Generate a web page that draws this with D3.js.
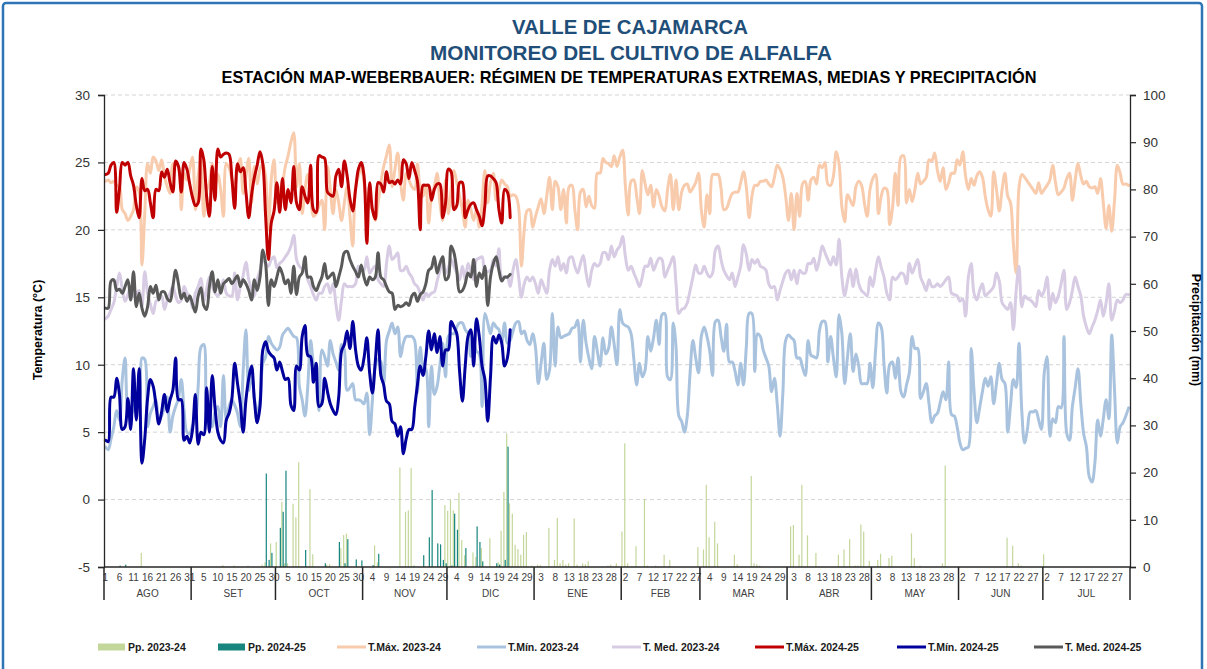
<!DOCTYPE html>
<html><head><meta charset="utf-8">
<script src="https://cdn.jsdelivr.net/npm/d3@7"></script>
<style>
body{margin:0;background:#fff}
text{font-family:"Liberation Sans",Arial,sans-serif}
</style></head>
<body><svg id="c" width="1207" height="669"></svg>
<script>
// ---------- DATA ----------
const monthNames = ["AGO","SET","OCT","NOV","DIC","ENE","FEB","MAR","ABR","MAY","JUN","JUL"];
const monthDays  = [31,30,31,30,31,31,28,31,30,31,30,31];
const tempTicks  = [30,25,20,15,10,5,0,-5];
const ppTicks    = [100,90,80,70,60,50,40,30,20,10,0];
const seriesNames = ["Pp. 2023-24","Pp. 2024-25","T.Máx. 2023-24","T.Mín. 2023-24","T. Med. 2023-24","T.Máx. 2024-25","T.Mín. 2024-25","T. Med. 2024-25"];

const tmax2324 = [23.6,23.7,23.5,23.6,23.3,23.2,21.5,21.2,20.7,21.0,
21.5,23.2,22.8,17.4,21.2,24.9,24.2,25.4,25.1,24.4,
25.2,24.0,23.2,22.7,24.9,24.9,24.7,21.5,24.2,23.7,
24.5,25.4,21.5,24.0,25.2,21.0,22.9,23.5,24.9,23.2,
24.1,23.0,21.0,24.9,24.6,23.8,23.2,24.5,25.3,22.7,
24.0,25.3,22.0,24.7,23.4,24.5,24.9,23.9,20.0,23.7,
25.2,22.0,23.0,23.5,24.7,25.5,26.5,27.2,23.2,24.9,
21.2,23.0,24.1,22.5,21.0,21.2,21.8,22.2,20.0,24.7,
23.0,21.2,23.0,22.0,20.7,22.0,23.2,21.0,18.8,23.2,
24.0,24.7,23.5,22.2,21.8,21.5,20.7,22.0,23.5,24.7,
25.5,26.3,23.2,24.5,25.7,23.5,22.2,24.2,23.7,23.2,
23.0,24.9,23.0,22.5,23.3,20.5,22.5,23.2,24.2,22.0,
20.7,23.7,21.2,23.0,24.4,23.5,22.5,21.5,20.2,22.2,
21.5,20.7,21.5,20.2,22.0,24.4,22.0,23.5,24.2,22.2,
23.0,23.7,23.4,23.2,22.5,22.6,22.5,21.7,17.3,20.0,
21.4,21.5,20.2,21.0,21.7,22.3,21.2,22.5,23.9,21.5,
23.6,23.2,21.5,23.0,20.5,23.2,23.3,21.5,20.0,22.8,
23.0,21.7,22.5,21.8,21.6,24.2,24.2,25.3,25.0,24.9,
24.7,25.5,24.7,25.4,25.9,23.2,21.1,23.6,23.7,22.5,
21.2,24.4,23.4,22.6,23.3,21.7,23.0,22.5,21.7,21.4,
23.0,24.1,21.5,23.7,21.5,22.8,23.3,23.4,22.8,23.1,
23.5,24.2,21.5,20.2,22.6,21.2,24.1,24.1,24.1,23.1,
21.5,21.6,22.2,22.7,22.8,22.8,23.5,24.3,23.2,20.9,
22.5,23.3,23.3,23.6,23.6,23.7,23.4,23.2,23.9,24.8,
24.5,23.9,22.5,20.7,22.7,20.0,22.7,21.0,23.4,23.6,
22.2,23.7,23.9,23.4,24.8,24.6,25.0,23.4,23.3,24.0,
25.8,24.9,21.7,20.6,22.6,22.2,21.8,23.2,23.6,23.3,
22.0,21.0,23.0,23.8,24.1,21.2,22.5,23.1,23.0,20.4,
21.6,24.2,21.8,25.4,25.5,22.0,23.0,22.1,23.0,24.2,
23.4,23.6,23.9,25.2,25.1,25.7,24.4,23.6,24.6,23.0,
23.5,24.2,24.2,25.2,24.8,25.8,24.0,23.0,23.8,23.3,
24.0,24.3,23.9,22.5,21.5,21.0,24.3,23.0,21.4,23.0,
24.2,22.5,22.0,19.0,16.8,23.1,24.1,23.9,23.6,23.3,
23.0,22.7,23.5,22.7,23.0,23.3,23.7,24.8,23.5,22.6,
22.8,23.1,23.8,24.2,22.2,23.7,24.9,24.0,23.4,23.6,
23.2,23.1,23.2,22.7,23.8,22.0,20.1,21.8,19.9,22.2,
24.8,24.2,23.4,23.4,23.3];

const tmin2324 = [3.9,3.7,4.5,5.4,6.6,5.9,8.9,10.5,6.6,6.2,
6.8,7.3,7.4,10.5,10.4,5.4,6.4,6.9,7.4,5.9,
6.2,6.9,7.6,5.0,6.2,6.9,7.5,8.9,6.6,5.0,
4.9,5.5,5.9,8.4,11.3,11.5,6.6,5.9,5.4,6.5,
6.9,5.4,9.2,5.9,6.9,7.4,7.0,6.4,5.4,9.5,
12.6,8.1,9.4,7.5,6.4,7.4,10.1,10.6,12.1,11.6,
11.3,11.1,11.3,12.2,12.5,12.7,12.4,12.1,12.0,8.4,
7.4,6.2,8.4,11.8,10.0,8.9,6.6,11.1,10.6,9.9,
11.8,10.8,10.2,9.6,11.5,11.1,8.1,8.3,8.6,7.4,
7.4,7.3,7.1,7.9,4.8,7.4,9.9,10.4,10.2,8.6,
11.8,12.5,13.1,12.3,12.8,10.6,11.6,12.1,12.1,12.1,
11.8,7.9,11.3,9.9,9.7,5.4,9.9,7.8,8.4,10.0,
11.6,9.1,12.1,12.3,12.3,12.8,13.1,13.1,12.6,12.3,
10.6,11.6,11.0,10.8,6.9,13.8,13.1,12.3,13.1,12.8,
12.6,11.6,13.1,11.6,11.8,12.5,13.1,13.2,12.3,12.5,
11.8,11.5,12.3,11.3,8.6,10.1,11.6,8.9,9.6,13.8,
9.9,12.8,12.0,12.1,12.2,12.3,12.7,12.8,13.3,10.2,
13.3,11.6,10.5,9.7,12.1,11.0,9.9,12.0,10.8,11.2,
12.8,11.5,10.0,14.1,13.1,12.9,12.8,12.3,10.4,8.5,
10.1,9.1,9.6,12.1,11.0,12.0,13.3,11.5,13.7,13.8,
9.1,8.9,13.1,11.3,6.2,5.8,5.0,6.2,9.4,11.8,
10.5,9.4,12.1,12.8,12.1,11.0,9.2,13.2,13.3,12.1,
11.0,13.0,10.2,10.2,9.5,8.5,10.1,8.5,11.3,13.8,
13.8,9.5,12.3,12.1,11.1,10.5,9.9,8.0,9.0,7.1,
4.7,7.9,11.8,12.2,12.0,11.8,10.5,10.5,9.8,9.2,
11.8,10.7,10.6,10.5,12.5,13.2,13.2,10.2,12.1,10.5,
9.1,13.7,12.3,8.6,10.6,12.3,9.5,10.8,9.9,8.6,
8.6,8.6,10.1,8.3,11.1,13.1,12.8,10.0,7.9,10.0,
10.2,9.0,10.5,8.0,7.6,8.5,9.4,12.1,11.2,11.2,
7.5,8.0,8.6,7.1,5.7,6.2,6.4,7.2,8.0,7.4,
10.2,6.3,6.2,5.4,4.2,3.7,3.8,3.9,11.2,8.1,
5.7,6.8,8.0,9.0,8.4,9.1,7.1,8.6,10.1,8.9,
8.6,5.0,7.0,8.9,8.3,11.6,6.6,4.2,5.2,6.5,
6.5,6.6,5.9,5.2,9.4,10.6,4.7,6.0,5.7,6.9,
6.8,12.1,4.9,4.4,6.9,8.3,9.7,7.1,4.9,3.9,
1.7,1.3,2.7,5.9,4.7,6.0,7.4,6.0,12.2,8.1,
4.2,5.4,5.7,6.2,6.8];

const tmed2324 = [13.4,13.6,14.1,14.6,15.8,16.8,15.6,14.7,15.2,15.8,
15.1,15.3,15.5,14.3,16.9,15.3,14.5,13.8,14.7,14.9,
15.1,14.1,14.8,15.3,15.8,15.1,14.6,14.8,15.8,15.3,
15.1,14.2,15.3,15.8,16.4,14.7,15.6,16.5,15.8,15.3,
15.1,15.6,16.3,15.3,15.1,15.1,16.8,14.8,15.8,16.6,
17.6,16.3,15.6,15.1,16.3,17.0,17.8,17.5,17.3,17.8,
18.0,17.2,17.5,17.7,18.0,18.3,18.8,19.6,17.8,17.3,
17.1,17.0,16.3,15.8,15.2,14.8,15.3,15.3,15.8,16.0,
15.3,16.0,14.5,13.3,14.8,16.0,15.8,15.8,15.8,16.0,
17.3,17.1,17.0,18.0,16.8,17.1,17.3,16.3,16.0,15.8,
17.5,18.8,17.8,18.0,18.3,17.0,17.0,17.3,16.8,16.5,
16.0,15.8,15.3,14.8,15.3,15.1,15.3,15.4,16.2,17.0,
17.8,16.8,17.2,17.8,17.3,16.8,16.3,17.3,16.3,17.5,
16.9,16.3,17.8,17.9,18.0,16.9,16.9,17.0,17.8,17.3,
18.6,16.5,16.5,16.5,15.8,17.0,17.8,16.5,15.0,16.0,
16.5,16.2,16.5,16.0,15.3,16.3,15.8,15.3,17.0,17.8,
17.3,18.0,17.0,17.5,16.8,17.9,18.0,17.3,16.8,17.5,
18.1,16.8,15.8,17.0,17.5,17.3,17.5,18.3,18.3,17.8,
18.8,18.0,18.5,18.8,19.5,18.0,17.0,17.3,16.8,16.3,
15.8,16.5,17.3,17.3,17.9,17.0,17.5,17.9,17.8,16.5,
17.0,17.5,18.0,16.0,13.8,14.1,14.2,14.6,15.5,16.5,
17.4,16.8,16.8,17.3,16.8,16.5,16.8,18.5,18.8,17.8,
17.0,16.6,16.3,16.8,15.8,16.5,17.3,18.9,18.2,17.0,
17.8,17.5,17.8,17.3,17.2,17.0,16.0,15.7,15.8,14.8,
15.5,16.2,16.8,17.0,16.3,17.0,16.0,17.0,16.8,16.8,
17.5,17.5,17.9,17.0,17.8,18.8,18.3,17.8,17.4,18.0,
17.4,19.3,16.5,15.1,16.2,17.1,15.8,17.1,16.0,15.5,
15.3,15.1,16.5,15.8,17.0,18.0,17.2,16.5,15.3,14.8,
16.5,16.3,16.5,16.8,16.7,16.0,17.5,16.8,17.3,17.8,
16.5,16.0,15.5,16.3,15.8,15.8,16.0,15.8,16.0,16.3,
16.5,15.3,15.2,15.1,14.7,14.9,13.6,16.5,17.5,15.3,
14.8,15.5,16.0,15.1,15.3,15.5,15.8,16.8,16.2,14.6,
14.3,14.1,14.6,12.6,15.5,17.3,14.3,15.1,14.9,14.8,
14.6,14.3,15.5,15.1,15.5,16.5,14.1,15.3,14.6,15.1,
16.0,17.0,14.1,14.6,15.5,16.5,15.8,15.1,13.6,12.8,
12.3,12.8,13.3,14.0,14.8,13.6,14.6,16.0,13.3,14.0,
14.8,14.6,14.8,15.2,15.2];

const tmax2425 = [24.1,24.2,24.8,25.0,21.3,23.0,25.0,24.8,25.0,24.0,
23.3,21.8,20.9,23.8,22.9,23.0,22.0,20.9,23.0,22.9,
24.3,23.9,24.5,23.5,22.8,25.1,24.7,22.8,25.0,24.5,
23.4,22.4,21.8,22.0,26.0,25.2,22.5,21.0,24.7,22.2,
26.0,25.4,25.6,25.7,25.6,23.8,21.6,24.9,24.3,24.6,
22.8,20.9,22.6,23.9,24.8,25.8,24.9,21.0,17.8,20.5,
21.4,23.5,21.3,23.8,21.5,23.0,22.0,24.7,22.0,21.5,
23.2,22.5,22.0,24.8,21.5,21.3,25.5,25.4,25.3,22.8,
22.6,22.5,24.0,24.5,23.2,25.1,24.0,22.3,21.4,23.0,
24.5,25.0,24.0,19.0,23.5,21.5,20.8,23.5,23.4,22.8,
24.3,23.5,23.6,23.4,23.7,23.4,25.2,24.9,23.8,25.0,
24.4,23.6,20.0,23.3,23.3,23.3,22.2,23.0,23.4,23.4,
20.9,22.0,24.5,24.3,21.5,21.8,23.5,23.5,20.9,21.5,
21.9,22.0,21.5,21.0,20.3,21.8,24.0,24.0,23.8,23.5,
21.5,20.5,23.0,22.8,20.9];

const tmin2425 = [4.4,4.3,7.6,7.6,9.0,7.8,5.2,5.4,7.5,5.2,
9.7,5.9,9.7,2.7,4.5,7.5,8.9,8.4,7.0,5.6,
6.5,7.8,6.5,7.4,8.1,10.5,7.4,7.4,4.4,4.7,
4.2,5.2,7.8,4.1,5.0,4.8,8.3,5.0,9.2,6.8,
5.0,4.4,4.2,5.9,6.4,7.5,10.1,8.6,7.1,5.0,
7.4,9.0,9.9,7.4,5.7,6.9,11.1,11.7,11.0,10.7,
10.5,9.6,10.2,9.5,8.9,9.0,7.0,6.6,9.9,9.6,
12.1,12.9,10.7,10.6,8.7,10.1,6.9,7.1,9.0,8.0,
7.1,6.6,6.3,7.6,11.0,11.5,12.5,11.2,13.2,11.1,
9.9,9.6,10.5,12.0,9.4,7.9,10.2,12.6,9.2,8.5,
7.3,7.1,5.8,5.6,4.7,5.4,3.4,4.5,5.2,5.2,
6.8,8.5,9.9,9.2,10.6,12.5,11.1,12.3,10.9,12.1,
9.9,11.1,11.1,13.2,12.8,12.3,9.5,7.3,9.9,12.1,
12.6,9.9,13.4,12.1,9.9,8.9,5.8,9.1,12.1,11.6,
12.2,11.6,9.9,10.5,12.6];

const tmed2425 = [14.2,14.2,16.2,16.3,15.5,15.6,15.3,15.8,16.3,14.8,
16.9,14.3,15.3,14.2,13.6,14.3,15.8,15.3,15.9,14.8,
15.4,15.4,14.9,14.7,15.8,17.0,16.0,14.9,15.3,14.7,
15.1,14.5,13.9,15.1,15.7,14.4,14.1,15.8,16.9,15.4,
16.3,15.3,16.0,16.2,16.4,16.0,16.3,16.6,15.8,16.3,
16.0,15.5,14.8,16.3,15.5,16.5,18.5,17.5,14.4,16.3,
15.8,16.5,17.2,16.7,16.0,16.3,15.3,17.3,15.2,16.5,
16.8,18.0,16.5,16.5,15.8,15.5,16.0,16.5,17.5,16.4,
16.6,16.8,15.8,16.5,17.3,18.3,18.4,17.8,17.3,16.9,
16.5,17.4,16.5,15.9,16.5,16.3,16.5,18.3,16.5,16.3,
15.8,15.4,15.3,14.1,14.4,14.3,14.4,14.6,14.4,15.1,
15.3,14.7,15.2,15.4,16.0,17.0,17.2,18.0,16.8,17.5,
18.0,16.3,16.5,18.8,18.3,17.0,15.4,15.5,16.0,16.8,
16.5,17.8,15.8,16.8,16.4,17.3,14.4,16.5,17.5,18.0,
17.0,16.2,16.5,16.5,16.7];

// precipitation (mm): day index within the season (0 = 1 AGO) and amount; other days 0
const pp2324Day = [13,42,46,51,56,57,59,61,63,64,65,67,68,69,73,74,79,80,84,85,86,96,97,105,107,108,109,110,
121,122,123,124,126,127,128,131,132,134,137,140,141,142,143,144,145,146,147,148,149,150,152,154,155,
158,160,161,162,163,164,165,167,168,170,171,172,179,180,182,184,185,186,189,192,193,196,199,201,
211,213,214,215,217,218,224,225,230,231,232,233,244,245,247,248,250,253,261,263,265,267,268,269,270,
272,275,276,279,280,287,288,290,298,299,321,323,325,326,334];
const pp2324 = [3.0,0.4,0.3,0.3,0.5,1.0,5.0,5.3,13.8,0.8,0.8,13.4,10.5,22.2,16.5,2.7,0.5,0.6,4.0,6.8,7.1,4.6,1.0,21.1,11.7,12.0,21.0,0.4,
13.1,11.9,14.2,12.0,15.7,5.7,2.5,3.1,2.1,4.0,6.1,1.0,7.7,15.9,28.3,13.5,11.3,4.7,3.8,2.6,6.8,7.4,0.3,0.5,0.4,
8.3,1.5,10.4,0.8,1.5,0.5,0.8,10.3,0.5,0.8,0.6,1.2,0.3,0.5,0.8,7.5,26.2,0.8,4.4,14.4,0.3,0.3,2.6,1.5,
4.2,3.7,17.4,6.3,9.6,5.0,2.6,0.6,19.3,0.8,0.6,0.3,8.6,8.9,2.6,17.4,6.7,3.0,2.6,3.7,5.9,0.3,0.3,9.0,7.5,
1.3,1.5,2.8,1.9,2.4,7.1,1.9,0.3,0.8,21.5,6.2,4.5,0.8,0.3,2.7];
const pp2425Day = [5,7,57,58,59,62,63,64,71,78,83,85,86,89,91,95,97,113,115,116,118,119,120,121,123,124,125,128,132,133,134,139,140,142,143];
const pp2425 = [0.3,0.5,19.8,1.5,3.0,8.3,11.7,20.4,3.6,0.8,5.3,0.8,5.9,1.6,1.4,0.4,2.8,2.5,6.3,16.3,5.0,4.8,1.5,0.8,0.3,11.3,7.9,4.0,8.6,5.3,1.2,0.8,0.5,1.5,25.5];

// ---------- CHART ----------
const svg = d3.select("#c");
const L = 104, R = 1130, T = 95, B = 567;

svg.append("rect").attr("x",0).attr("y",0).attr("width",1207).attr("height",669).attr("fill","#fff");
svg.append("rect").attr("x",3).attr("y",3).attr("width",1199).attr("height",700).attr("rx",3)
  .attr("fill","none").attr("stroke","#2E75B6").attr("stroke-width",2.5);

// day categories
const days = [];
monthNames.forEach((m,mi)=>{ for(let d=1; d<=monthDays[mi]; d++) days.push({m:mi, d:d}); });
const x = d3.scaleBand().domain(d3.range(days.length)).range([L,R]).padding(0);
const bw = x.bandwidth();
const xc = i => x(i) + bw/2;
const yT = d3.scaleLinear().domain([-5,30]).range([B,T]);
const yP = d3.scaleLinear().domain([0,100]).range([B,T]);

// titles
function fitText(sel, target){ const n = sel.node(); const fs = parseFloat(sel.attr("font-size")); const w = n.getComputedTextLength(); sel.attr("font-size", (fs*target/w).toFixed(2)); }
const t1 = svg.append("text").attr("x",630).attr("y",34).attr("text-anchor","middle").attr("font-size",20).attr("font-weight","bold").attr("fill","#1F4E79").text("VALLE DE CAJAMARCA");
fitText(t1, 236);
const t2 = svg.append("text").attr("x",631).attr("y",60).attr("text-anchor","middle").attr("font-size",20).attr("font-weight","bold").attr("fill","#1F4E79").text("MONITOREO DEL CULTIVO DE ALFALFA");
fitText(t2, 402);
const t3 = svg.append("text").attr("x",629).attr("y",83).attr("text-anchor","middle").attr("font-size",15).attr("font-weight","bold").attr("fill","#000").text("ESTACIÓN MAP-WEBERBAUER: RÉGIMEN DE TEMPERATURAS EXTREMAS, MEDIAS Y PRECIPITACIÓN");
fitText(t3, 815);

// gridlines
svg.append("g").selectAll("line").data(tempTicks.filter(v=>v>-5)).join("line")
  .attr("x1",L).attr("x2",R).attr("y1",d=>yT(d)).attr("y2",d=>yT(d))
  .attr("stroke","#d4d4d4").attr("stroke-width",1).attr("stroke-dasharray","4,3");

// bars
const sub = d3.scaleBand().domain([0,1]).range([0,bw]).paddingInner(0.1).paddingOuter(0.1);
svg.append("g").selectAll("rect").data(pp2324Day.map((d,i)=>({d, v:pp2324[i]}))).join("rect")
  .attr("x",p=>x(p.d)+sub(0)).attr("width",sub.bandwidth()).attr("y",p=>yP(p.v)).attr("height",p=>B-yP(p.v))
  .attr("fill","#C4D79B");
svg.append("g").selectAll("rect").data(pp2425Day.map((d,i)=>({d, v:pp2425[i]}))).join("rect")
  .attr("x",p=>x(p.d)+sub(1)).attr("width",sub.bandwidth()).attr("y",p=>yP(p.v)).attr("height",p=>B-yP(p.v))
  .attr("fill","#17867F");

// lines
const line = d3.line().x((d,i)=>xc(i)).y(d=>yT(d)).curve(d3.curveCatmullRom.alpha(0.5));
const lineSeries = [
  {v:tmax2324, c:"#F8CBAD"},
  {v:tmin2324, c:"#A9C3DF"},
  {v:tmed2324, c:"#D7CCE3"},
  {v:tmax2425, c:"#C00000"},
  {v:tmin2425, c:"#00009C"},
  {v:tmed2425, c:"#595959"}
];
svg.append("g").selectAll("path").data(lineSeries).join("path")
  .attr("d",s=>line(s.v)).attr("fill","none").attr("stroke",s=>s.c)
  .attr("stroke-width",3).attr("stroke-linejoin","round").attr("stroke-linecap","round");

// left axis
const gl = svg.append("g").attr("transform",`translate(${L},0)`)
  .call(d3.axisLeft(yT).tickValues(tempTicks).tickSize(6).tickPadding(8).tickFormat(d=>String(d)));
gl.select(".domain").attr("stroke","#262626").attr("stroke-width",1.3);
gl.selectAll(".tick line").attr("stroke","#262626").attr("stroke-width",1.2);
gl.selectAll(".tick text").attr("font-size",13.5).attr("fill","#333").attr("font-family","Liberation Sans, Arial, sans-serif");

// right axis
const gr = svg.append("g").attr("transform",`translate(${R},0)`)
  .call(d3.axisRight(yP).tickValues(ppTicks).tickSize(6).tickPadding(7).tickFormat(d=>String(d)));
gr.select(".domain").attr("stroke","#262626").attr("stroke-width",1.3);
gr.selectAll(".tick line").attr("stroke","#262626").attr("stroke-width",1.2);
gr.selectAll(".tick text").attr("font-size",13.5).attr("fill","#333").attr("font-family","Liberation Sans, Arial, sans-serif");

// bottom axis line
svg.append("line").attr("x1",L).attr("x2",R).attr("y1",B).attr("y2",B).attr("stroke","#262626").attr("stroke-width",1.3);

// day labels every 5 days
svg.append("g").selectAll("text").data(d3.range(0,days.length,5)).join("text")
  .attr("x",i=>xc(i)).attr("y",581).attr("text-anchor","middle").attr("font-size",10).attr("fill","#404040")
  .text(i=>days[i].d);

// month separators and labels
const monthStart = [];
let acc = 0; monthDays.forEach(n=>{ monthStart.push(acc); acc += n; });
const sepX = monthStart.map(s=>x(s)).concat([R]);
svg.append("g").selectAll("line").data(sepX).join("line")
  .attr("x1",d=>d).attr("x2",d=>d).attr("y1",B).attr("y2",600)
  .attr("stroke","#262626").attr("stroke-width",1.5);
svg.append("g").selectAll("text").data(monthNames).join("text")
  .attr("x",(m,i)=>(x(monthStart[i]) + x(monthStart[i]+monthDays[i]-1) + bw)/2).attr("y",597)
  .attr("text-anchor","middle").attr("font-size",10).attr("fill","#404040").text(m=>m);

// axis titles
svg.append("text").attr("transform","translate(42,330) rotate(-90)").attr("text-anchor","middle")
  .attr("font-size",12.5).attr("font-weight","bold").attr("fill","#000").text("Temperatura (°C)");
svg.append("text").attr("transform","translate(1192,330) rotate(90)").attr("text-anchor","middle")
  .attr("font-size",12.5).attr("font-weight","bold").attr("fill","#000").text("Precipitación (mm)");

// legend
const legX = [98,218,337,477,612,755,897,1034];
const legC = ["#C4D79B","#17867F","#F8CBAD","#A9C3DF","#D7CCE3","#C00000","#00009C","#595959"];
const lg = svg.append("g");
seriesNames.forEach((n,i)=>{
  const g = lg.append("g").attr("transform",`translate(${legX[i]},647)`);
  if(i<2){ g.append("rect").attr("x",0).attr("y",-3.5).attr("width",27).attr("height",7).attr("fill",legC[i]); }
  else { g.append("line").attr("x1",0).attr("x2",29).attr("y1",0).attr("y2",0).attr("stroke",legC[i]).attr("stroke-width",3); }
  g.append("text").attr("x",i<2?30:31).attr("y",4).attr("font-size",10.5).attr("font-weight","bold").attr("fill","#1a1a1a").text(n);
});
</script>
</body></html>
